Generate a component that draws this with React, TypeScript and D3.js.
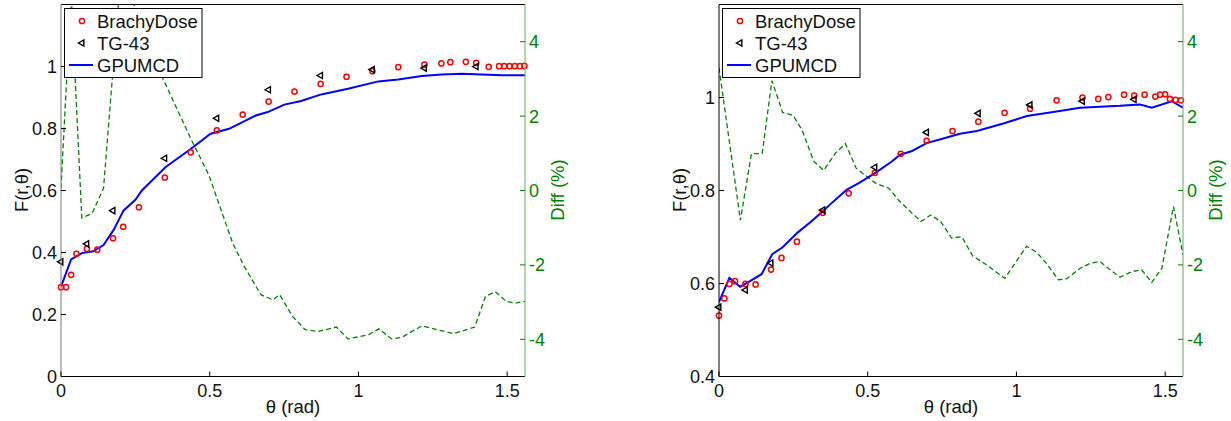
import React from "react";
import * as d3 from "d3";

type Pt = [number, number];

// theta (rad) vs value
const thetaTicks = [0, 0.5, 1, 1.5];
const diffTicks = [-4, -2, 0, 2, 4];
const leftFTicks = [0, 0.2, 0.4, 0.6, 0.8, 1];
const rightFTicks = [0.4, 0.6, 0.8, 1];
const legendNames = ["BrachyDose", "TG-43", "GPUMCD"];

const leftBrachy: Pt[] = [
  [0, 0.288], [0.017, 0.288], [0.034, 0.328], [0.052, 0.396], [0.087, 0.412],
  [0.122, 0.409], [0.175, 0.446], [0.209, 0.483], [0.262, 0.546], [0.349, 0.642],
  [0.436, 0.723], [0.524, 0.794], [0.611, 0.845], [0.698, 0.887], [0.785, 0.919],
  [0.873, 0.944], [0.96, 0.967], [1.047, 0.985], [1.134, 0.998], [1.222, 1.006],
  [1.279, 1.01], [1.309, 1.014], [1.361, 1.015], [1.396, 1.012], [1.438, 0.999],
  [1.473, 1.001], [1.49, 1.001], [1.508, 1.001], [1.526, 1.001], [1.543, 1.001],
  [1.558, 1.002],
];
const leftTg43: Pt[] = [
  [0, 0.37], [0.087, 0.428], [0.175, 0.535], [0.349, 0.704], [0.524, 0.833],
  [0.698, 0.925], [0.873, 0.971], [1.047, 0.99], [1.222, 0.995], [1.396, 1.0],
];
const leftGpumcd: Pt[] = [
  [0, 0.29], [0.034, 0.378], [0.07, 0.398], [0.109, 0.404], [0.143, 0.424],
  [0.177, 0.473], [0.21, 0.535], [0.25, 0.57], [0.272, 0.6], [0.351, 0.675],
  [0.436, 0.734], [0.503, 0.783], [0.565, 0.799], [0.655, 0.842], [0.695, 0.853],
  [0.751, 0.877], [0.807, 0.889], [0.875, 0.91], [0.965, 0.928], [1.067, 0.952],
  [1.134, 0.958], [1.213, 0.969], [1.28, 0.974], [1.348, 0.977], [1.416, 0.974],
  [1.483, 0.972], [1.56, 0.972],
];
const leftDiff: Pt[] = [
  [0, 0.06], [0.034, 5.3], [0.07, -0.74], [0.105, -0.61], [0.143, 0.06],
  [0.173, 3.06], [0.209, 6.6], [0.262, 4.3], [0.349, 2.9], [0.436, 1.4],
  [0.498, 0.4], [0.524, -0.2], [0.577, -1.41], [0.616, -2.04], [0.672, -2.8],
  [0.712, -2.94], [0.735, -2.8], [0.779, -3.39], [0.821, -3.74], [0.864, -3.79],
  [0.926, -3.67], [0.965, -3.99], [1.033, -3.88], [1.069, -3.72], [1.111, -3.99],
  [1.145, -3.95], [1.213, -3.64], [1.32, -3.85], [1.391, -3.67], [1.427, -2.85],
  [1.46, -2.72], [1.497, -2.98], [1.528, -3.03], [1.56, -2.98],
];

const rightBrachy: Pt[] = [
  [0, 0.531], [0.018, 0.568], [0.035, 0.599], [0.054, 0.605], [0.089, 0.599],
  [0.123, 0.598], [0.175, 0.63], [0.21, 0.655], [0.262, 0.69], [0.349, 0.752],
  [0.436, 0.794], [0.524, 0.838], [0.611, 0.879], [0.698, 0.907], [0.785, 0.928],
  [0.872, 0.948], [0.96, 0.967], [1.046, 0.976], [1.135, 0.994], [1.222, 1.0],
  [1.275, 0.997], [1.309, 1.001], [1.362, 1.006], [1.396, 1.004], [1.431, 1.006],
  [1.467, 1.002], [1.483, 1.006], [1.5, 1.007], [1.516, 0.997], [1.535, 0.995],
  [1.553, 0.994],
];
const rightTg43: Pt[] = [
  [0, 0.549], [0.089, 0.586], [0.175, 0.644], [0.349, 0.758], [0.524, 0.85],
  [0.698, 0.925], [0.872, 0.966], [1.046, 0.984], [1.222, 0.992], [1.396, 0.996],
];
const rightGpumcd: Pt[] = [
  [0, 0.56], [0.035, 0.612], [0.071, 0.593], [0.104, 0.605], [0.143, 0.62],
  [0.179, 0.663], [0.214, 0.678], [0.265, 0.71], [0.306, 0.731], [0.34, 0.75],
  [0.382, 0.775], [0.43, 0.802], [0.47, 0.816], [0.526, 0.838], [0.582, 0.863],
  [0.609, 0.877], [0.649, 0.885], [0.698, 0.902], [0.754, 0.912], [0.81, 0.922],
  [0.867, 0.928], [0.956, 0.944], [1.035, 0.96], [1.124, 0.969], [1.214, 0.978],
  [1.281, 0.98], [1.348, 0.982], [1.416, 0.985], [1.455, 0.978], [1.522, 0.992],
  [1.56, 0.978],
];
const rightDiff: Pt[] = [
  [0, 3.3], [0.072, -0.8], [0.109, 0.99], [0.145, 0.99], [0.178, 2.95],
  [0.214, 2.1], [0.249, 2.02], [0.279, 1.63], [0.319, 0.78], [0.352, 0.54],
  [0.391, 1.0], [0.425, 1.26], [0.461, 0.6], [0.526, 0.2], [0.571, 0.06],
  [0.605, -0.27], [0.649, -0.61], [0.679, -0.83], [0.712, -0.66], [0.745, -0.83],
  [0.782, -1.28], [0.816, -1.24], [0.853, -1.76], [0.894, -1.97], [0.961, -2.36],
  [1.034, -1.5], [1.068, -1.66], [1.101, -1.96], [1.141, -2.4], [1.17, -2.37],
  [1.214, -2.09], [1.25, -1.95], [1.281, -1.91], [1.315, -2.13], [1.348, -2.33],
  [1.388, -2.18], [1.421, -2.13], [1.455, -2.47], [1.489, -2.09], [1.528, -0.43],
  [1.56, -1.73],
];

const THETA_MAX = 1.56;
const FONT = "'Liberation Sans', Arial, Helvetica, sans-serif";
const GREEN = "#008000";

function Panel(props: {
  id: string;
  left: number;
  fDomain: [number, number];
  fTicks: number[];
  brachy: Pt[];
  tg43: Pt[];
  gpumcd: Pt[];
  diff: Pt[];
  leftAxisColor: string;
}) {
  const { id, left, fDomain, fTicks, brachy, tg43, gpumcd, diff, leftAxisColor } = props;
  const top = 4.5;
  const bottom = 376.5;
  const right = left + 464;

  const x = d3.scaleLinear().domain([0, THETA_MAX]).range([left, right]);
  const y = d3.scaleLinear().domain(fDomain).range([bottom, top]);
  const yd = d3.scaleLinear().domain([-5, 5]).range([bottom, top]);

  const fLine = d3.line<Pt>().x(d => x(d[0])).y(d => y(d[1]));
  const dLine = d3.line<Pt>().x(d => x(d[0])).y(d => yd(d[1]));
  const tri = d3.symbol().type(d3.symbolTriangle).size(17)() as string;

  const lx = left + 3.5;
  const legendRows = [21, 43, 65];

  return (
    <g fontFamily={FONT}>
      <defs>
        <clipPath id={id}>
          <rect x={left} y={top} width={right - left} height={bottom - top} />
        </clipPath>
      </defs>

      {/* difference curve on the right axis */}
      <path
        d={dLine(diff) || ""}
        fill="none"
        stroke={GREEN}
        strokeWidth={1.3}
        strokeDasharray="5,3"
        clipPath={`url(#${id})`}
      />

      <path
        d={fLine(gpumcd) || ""}
        fill="none"
        stroke="#0000ff"
        strokeWidth={2}
        clipPath={`url(#${id})`}
      />
      {brachy.map((d, i) => (
        <circle key={"b" + i} cx={x(d[0])} cy={y(d[1])} r={2.6} fill="none" stroke="#ff0000" strokeWidth={1.5} />
      ))}
      {tg43.map((d, i) => (
        <path
          key={"t" + i}
          d={tri}
          transform={`translate(${x(d[0])},${y(d[1])}) rotate(-90)`}
          fill="none"
          stroke="#000"
          strokeWidth={1.4}
        />
      ))}

      {/* frame */}
      <line x1={left} x2={right} y1={top} y2={top} stroke="#000" />
      <line x1={left} x2={right} y1={bottom} y2={bottom} stroke="#000" />
      <line x1={left} x2={left} y1={top} y2={bottom} stroke={leftAxisColor} />
      <line x1={right} x2={right} y1={top} y2={bottom} stroke="#5fae5f" />

      {/* x axis */}
      {thetaTicks.map(t => (
        <g key={"x" + t}>
          <line x1={x(t)} x2={x(t)} y1={bottom} y2={bottom - 5} stroke="#000" />
          <text x={x(t)} y={396.5} textAnchor="middle" fontSize={18} fill="#111">
            {String(t)}
          </text>
        </g>
      ))}
      <text x={(left + right) / 2} y={413} textAnchor="middle" fontSize={18.5} fill="#111">
        θ (rad)
      </text>

      {/* left axis */}
      {fTicks.map(t => (
        <g key={"f" + t}>
          <line x1={left} x2={left + 5} y1={y(t)} y2={y(t)} stroke="#000" />
          <text x={left - 4} y={y(t)} dy="0.36em" textAnchor="end" fontSize={18} fill="#111">
            {String(t)}
          </text>
        </g>
      ))}
      <text
        transform={`translate(${left - 33},${190}) rotate(-90)`}
        textAnchor="middle"
        fontSize={18.5}
        fill="#111"
      >
        F(r,θ)
      </text>

      {/* right axis */}
      {diffTicks.map(t => (
        <g key={"d" + t}>
          <line x1={right} x2={right - 5} y1={yd(t)} y2={yd(t)} stroke={GREEN} />
          <text x={right + 4} y={yd(t)} dy="0.36em" textAnchor="start" fontSize={18} fill={GREEN}>
            {String(t)}
          </text>
        </g>
      ))}
      <text
        transform={`translate(${right + 39},${190}) rotate(-90)`}
        textAnchor="middle"
        fontSize={18.5}
        fill={GREEN}
      >
        Diff (%)
      </text>

      {/* legend */}
      <rect x={lx} y={8.5} width={137.5} height={69} fill="#fff" stroke="#000" strokeWidth={1} />
      <circle cx={left + 21} cy={legendRows[0]} r={2.6} fill="none" stroke="#ff0000" strokeWidth={1.5} />
      <path
        d={tri}
        transform={`translate(${left + 21},${legendRows[1]}) rotate(-90)`}
        fill="none"
        stroke="#000"
        strokeWidth={1.4}
      />
      <line x1={left + 8} x2={left + 32} y1={legendRows[2]} y2={legendRows[2]} stroke="#0000ff" strokeWidth={2} />
      {legendNames.map((n, i) => (
        <text key={n} x={left + 36} y={legendRows[i]} dy="0.36em" fontSize={18.5} fill="#111">
          {n}
        </text>
      ))}
    </g>
  );
}

export default function App() {
  return (
    <div style={{ position: "absolute", left: 0, top: 0 }}>
      <svg width={1231} height={421} style={{ display: "block", background: "#fff" }}>
        <Panel
          id="clipL"
          left={61}
          fDomain={[0, 1.2]}
          fTicks={leftFTicks}
          brachy={leftBrachy}
          tg43={leftTg43}
          gpumcd={leftGpumcd}
          diff={leftDiff}
          leftAxisColor="#777"
        />
        <Panel
          id="clipR"
          left={719}
          fDomain={[0.4, 1.2]}
          fTicks={rightFTicks}
          brachy={rightBrachy}
          tg43={rightTg43}
          gpumcd={rightGpumcd}
          diff={rightDiff}
          leftAxisColor="#000"
        />
      </svg>
    </div>
  );
}
